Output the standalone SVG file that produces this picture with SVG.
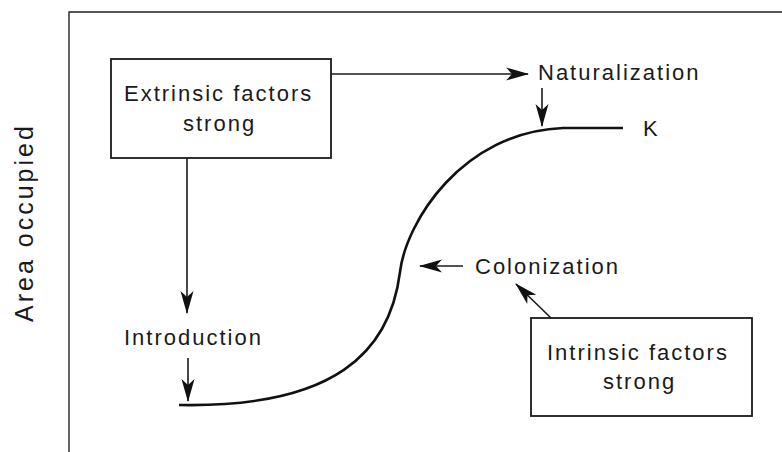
<svg xmlns="http://www.w3.org/2000/svg" width="782" height="452" viewBox="0 0 782 452">
<style>
.t{font-family:"Liberation Sans",Arial,sans-serif;font-size:22px;letter-spacing:2px;fill:#1a1a1a}
.box{fill:#fff;stroke:#1a1a1a;stroke-width:1.8}
.ln{fill:none;stroke:#1a1a1a;stroke-width:1.6}
.frame{fill:none;stroke:#222;stroke-width:1.4}
.curve{fill:none;stroke:#111;stroke-width:2.6}
</style>
<defs>
<marker id="ah" markerUnits="userSpaceOnUse" markerWidth="30" markerHeight="20" refX="0" refY="0" viewBox="-24 -10 26 20" orient="auto" overflow="visible">
<path d="M1,0 L-22,-6.5 L-16,0 L-22,6.5 Z" fill="#111"/>
</marker>
</defs>
<rect width="782" height="452" fill="#fff"/>
<g id="axes">
<path class="frame" d="M69,452 L69,12 L782,12"/>
<text class="t" style="font-size:25px;letter-spacing:3px" transform="translate(33,322) rotate(-90)">Area occupied</text>
</g>
<g id="curve">
<path class="curve" d="M179,405 C335,408 390,352 400,272 C406,222 462,132 563,128 L623,128"/>
<text class="t" x="643" y="136">K</text>
</g>
<g id="extrinsic">
<rect class="box" x="111" y="59" width="220" height="99"/>
<text class="t" x="124" y="101">Extrinsic factors</text>
<text class="t" x="183" y="130.5">strong</text>
</g>
<g id="intrinsic">
<rect class="box" x="531" y="318" width="221" height="98"/>
<text class="t" x="547" y="360">Intrinsic factors</text>
<text class="t" x="603" y="388.5">strong</text>
</g>
<g id="naturalization"><text class="t" x="538" y="80">Naturalization</text></g>
<g id="introduction"><text class="t" x="124" y="345">Introduction</text></g>
<g id="colonization"><text class="t" x="475" y="273.5">Colonization</text></g>
<g id="connectors">
<path class="ln" d="M331,74 L528,74" marker-end="url(#ah)"/>
<path class="ln" d="M542,88 L542,126" marker-end="url(#ah)"/>
<path class="ln" d="M187,158 L187,313" marker-end="url(#ah)"/>
<path class="ln" d="M188,358 L188,401" marker-end="url(#ah)"/>
<path class="ln" d="M463,266 L420,266" marker-end="url(#ah)"/>
<path class="ln" d="M551,318 L516,284" marker-end="url(#ah)"/>
</g>
</svg>
